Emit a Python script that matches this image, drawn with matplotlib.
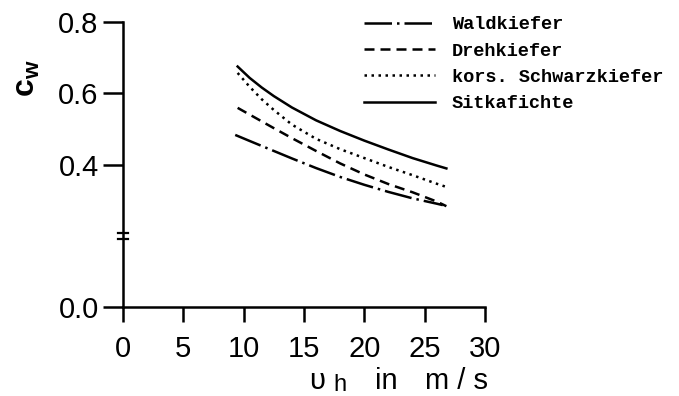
import matplotlib.pyplot as plt
from matplotlib.font_manager import FontProperties

plt.rcParams["mathtext.fontset"] = "custom"
plt.rcParams["mathtext.rm"] = "Liberation Sans"
plt.rcParams["mathtext.it"] = "Liberation Sans"
plt.rcParams["mathtext.bf"] = "Liberation Sans:bold"

# wind speed v_h in m/s and drag coefficient c_w per tree species
speed = [9.5, 10.5, 11.5, 12.5, 14, 16, 18, 20, 22, 24, 26, 26.8]
speed_wald = [9.3, 10.5, 11.5, 12.5, 14, 16, 18, 20, 22, 24, 26, 26.5]
waldkiefer = [0.483, 0.466, 0.452, 0.438, 0.417, 0.390, 0.365, 0.343, 0.323, 0.305, 0.290, 0.286]
drehkiefer = [0.559, 0.540, 0.521, 0.502, 0.474, 0.438, 0.403, 0.372, 0.345, 0.322, 0.296, 0.283]
schwarzkiefer = [0.657, 0.618, 0.583, 0.553, 0.512, 0.472, 0.443, 0.418, 0.393, 0.370, 0.346, 0.337]
sitkafichte = [0.675, 0.643, 0.616, 0.592, 0.560, 0.524, 0.494, 0.467, 0.442, 0.418, 0.397, 0.389]

labels = ["Waldkiefer", "Drehkiefer", "kors. Schwarzkiefer", "Sitkafichte"]
x_ticks = [0, 5, 10, 15, 20, 25, 30]
y_ticks = [0.0, 0.4, 0.6, 0.8]

W, H = 679, 396
fig = plt.figure(figsize=(W / 100, H / 100), dpi=100)
ax = fig.add_axes([123 / W, 89 / H, 362 / W, 285 / H])
ax.set_xlim(0, 30)
ax.set_ylim(0, 0.8)

lw = 1.8
ax.plot(speed_wald, waldkiefer, color="black", lw=lw, linestyle=(0, (11, 2, 1, 2)), label=labels[0])
ax.plot(speed, drehkiefer, color="black", lw=lw, linestyle=(0, (4, 2.4)), label=labels[1])
ax.plot(speed, schwarzkiefer, color="black", lw=lw, linestyle=(0, (1, 1.8)), label=labels[2])
ax.plot(speed, sitkafichte, color="black", lw=lw, linestyle="-", label=labels[3])

for s in ["top", "right"]:
    ax.spines[s].set_visible(False)
for s in ["left", "bottom"]:
    ax.spines[s].set_linewidth(1.8)

tick_font = "Liberation Sans"
ax.set_xticks(x_ticks)
ax.set_xticklabels([str(t) for t in x_ticks], fontsize=21, family=tick_font)
ax.set_yticks(y_ticks)
ax.set_yticklabels([f"{t:.1f}" for t in y_ticks], fontsize=21, family=tick_font)
ax.tick_params(axis="x", direction="out", length=11, width=1.8, pad=9)
ax.tick_params(axis="y", direction="out", length=14.5, width=1.8, pad=3)

# axis break near 0.2
ax.plot([-0.35, 0.35], [0.2, 0.2], color="white", lw=6, clip_on=False, solid_capstyle="butt")
ax.plot([-0.4, 0.4], [0.208, 0.208], color="black", lw=1.6, clip_on=False)
ax.plot([-0.4, 0.4], [0.192, 0.192], color="black", lw=1.6, clip_on=False)

fig.text(27 / W, 1 - 78 / H, r"$\mathbf{c_w}$", fontsize=23, rotation=90, ha="center", va="center")

# x axis title: v_h in m/s
fig.text(309 / W, 1 - 389 / H, "υ", fontsize=21, family=tick_font, ha="left", va="baseline")
fig.text(333 / W, 1 - 391 / H, "h", fontsize=17, family=tick_font, ha="left", va="baseline")
fig.text(375 / W, 1 - 389 / H, "in", fontsize=21, family=tick_font, ha="left", va="baseline")
fig.text(488 / W, 1 - 389 / H, "m / s", fontsize=21, family=tick_font, ha="right", va="baseline")

leg = ax.legend(loc="upper left", bbox_to_anchor=(355 / W, 1 - 7 / H),
                bbox_transform=fig.transFigure, frameon=False,
                prop=FontProperties(family="Liberation Mono", weight="bold", size=13.4),
                handlelength=3.8, handletextpad=0.9, labelspacing=0.5, borderpad=0)

fig.savefig("out.png", dpi=100)
